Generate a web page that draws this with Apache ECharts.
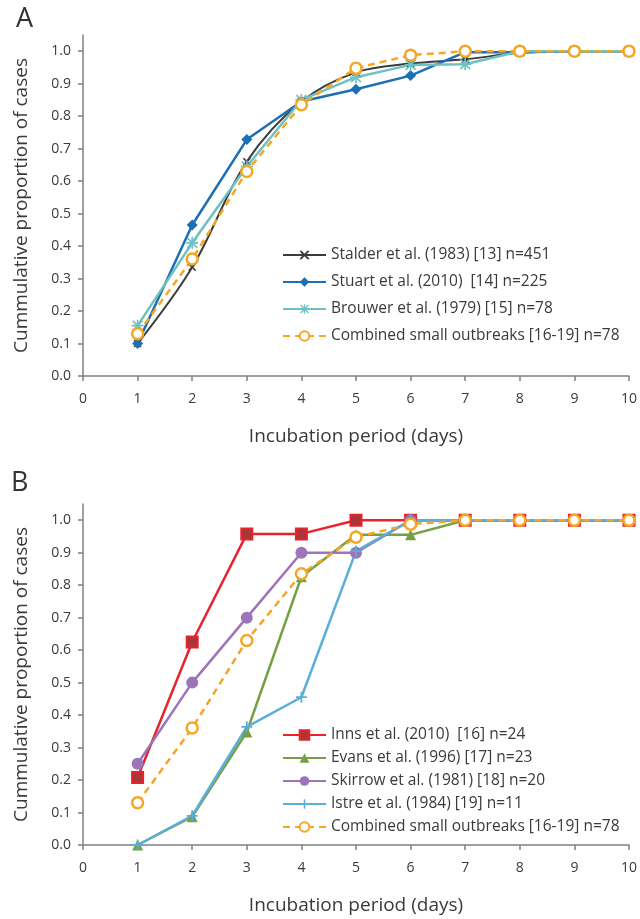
<!DOCTYPE html>
<html>
<head>
<meta charset="utf-8">
<script src="https://cdn.jsdelivr.net/npm/echarts@6/dist/echarts.min.js"></script>
<style>
  html, body { margin: 0; padding: 0; background: #fff; }
  #chart { width: 640px; height: 919px; }
</style>
</head>
<body>
<div id="chart"></div>
<script>
// incubation day
var days = [1, 2, 3, 4, 5, 6, 7, 8, 9, 10];
var yTicks = [0, 0.1, 0.2, 0.3, 0.4, 0.5, 0.6, 0.7, 0.8, 0.9, 1.0];

// panel A
var stalder  = [0.10, 0.335, 0.66, 0.845, 0.935, 0.962, 0.975, 0.995, 1.0, 1.0];
var stuart   = [0.10, 0.465, 0.728, 0.845, 0.883, 0.925, 0.997, 0.997, 1.0, 1.0];
var brouwer  = [0.155, 0.41, 0.645, 0.85, 0.92, 0.958, 0.96, 1.0, 1.0, 1.0];
var combined = [0.13, 0.36, 0.63, 0.835, 0.948, 0.988, 1.0, 1.0, 1.0, 1.0];

// panel B
var inns     = [0.208, 0.625, 0.958, 0.958, 1.0, 1.0, 1.0, 1.0, 1.0, 1.0];
var evans    = [0.0, 0.087, 0.348, 0.826, 0.955, 0.955, 1.0, 1.0, 1.0, 1.0];
var skirrow  = [0.25, 0.50, 0.70, 0.90, 0.90, 1.0, 1.0, 1.0, 1.0, 1.0];
var istre    = [0.0, 0.09, 0.364, 0.455, 0.905, 1.0, 1.0, 1.0, 1.0, 1.0];

var names = {
    stalder: 'Stalder et al. (1983) [13] n=451',
    stuart: 'Stuart et al. (2010)  [14] n=225',
    brouwer: 'Brouwer et al. (1979) [15] n=78',
    combined: 'Combined small outbreaks [16-19] n=78',
    inns: 'Inns et al. (2010)  [16] n=24',
    evans: 'Evans et al. (1996) [17] n=23',
    skirrow: 'Skirrow et al. (1981) [18] n=20',
    istre: 'Istre et al. (1984) [19] n=11'
};

function pairs(vals) {
    return days.map(function (d, i) { return [d, vals[i]]; });
}

var FONT = 'Open Sans';
var TXT = '#3a3a3a';
var AX = '#808080';
var xSym = 'path://M1.4,0 L5,3.6 L8.6,0 L10,1.4 L6.4,5 L10,8.6 L8.6,10 L5,6.4 L1.4,10 L0,8.6 L3.6,5 L0,1.4 Z';
var plusSym = 'path://M4.2,0 h1.6 v4.2 h4.2 v1.6 h-4.2 v4.2 h-1.6 v-4.2 h-4.2 v-1.6 h4.2 Z';
var starSym = 'path://M4.3,0 h1.4 v3.3 L8.6,0.4 L9.6,1.4 L6.7,4.3 H10 v1.4 H6.7 L9.6,8.6 L8.6,9.6 L5.7,6.7 V10 h-1.4 V6.7 L1.4,9.6 L0.4,8.6 L3.3,5.7 H0 v-1.4 H3.3 L0.4,1.4 L1.4,0.4 L4.3,3.3 Z';

var myChart = echarts.init(document.getElementById('chart'));

function xAx(idx) {
    return {
        type: 'value', gridIndex: idx, min: 0, max: 10, interval: 1,
        name: 'Incubation period (days)', nameLocation: 'middle', nameGap: 51,
        nameTextStyle: { fontFamily: FONT, fontSize: 19, color: TXT },
        axisLine: { lineStyle: { color: AX, width: 1.5 } },
        axisTick: { show: true, length: 5, lineStyle: { color: AX, width: 1.5 } },
        axisLabel: { fontFamily: FONT, fontSize: 14, color: TXT, margin: 16 },
        splitLine: { show: false }
    };
}
function yAx(idx) {
    return {
        type: 'value', gridIndex: idx, min: 0, max: 1.05,
        name: 'Cummulative proportion of cases', nameLocation: 'middle', nameGap: 52,
        nameTextStyle: { fontFamily: FONT, fontSize: 19, color: TXT },
        axisLine: { show: true, lineStyle: { color: AX, width: 1.5 } },
        axisTick: { show: true, length: 5, inside: false, customValues: yTicks, lineStyle: { color: AX, width: 1.5 } },
        axisLabel: { fontFamily: FONT, fontSize: 14, color: TXT, margin: 12, customValues: yTicks,
            formatter: function (v) { return v.toFixed(1); } },
        splitLine: { show: false }
    };
}

function line(name, vals, grid, color, symbol, size, extra) {
    var s = {
        name: name, type: 'line', xAxisIndex: grid, yAxisIndex: grid,
        data: pairs(vals), symbol: symbol, symbolSize: size,
        lineStyle: { color: color, width: 2.5 },
        itemStyle: { color: color },
        emphasis: { disabled: true }
    };
    if (extra) {
        for (var k in extra) s[k] = extra[k];
    }
    return s;
}

var orangeOpts = {
    lineStyle: { color: '#f5a623', width: 2.5, type: [7, 5] },
    itemStyle: { color: '#fff', borderColor: '#f5a623', borderWidth: 2.5 }
};

var option = {
    animation: false,
    title: [
        { text: 'A', left: 11, top: 1, textStyle: { fontFamily: FONT, fontSize: 27, fontWeight: 'normal', color: '#333' } },
        { text: 'B', left: 6, top: 465, textStyle: { fontFamily: FONT, fontSize: 27, fontWeight: 'normal', color: '#333' } }
    ],
    grid: [
        { left: 83, right: 11, top: 35, height: 341 },
        { left: 83, right: 11, top: 504, height: 341 }
    ],
    xAxis: [xAx(0), xAx(1)],
    yAxis: [yAx(0), yAx(1)],
    legend: [
        {
            orient: 'vertical', left: 277, top: 242, itemWidth: 43, itemHeight: 12, itemGap: 11,
            textStyle: { fontFamily: FONT, fontSize: 15.5, color: TXT },
            data: [names.stalder, names.stuart, names.brouwer, names.combined]
        },
        {
            orient: 'vertical', left: 277, top: 722, itemWidth: 43, itemHeight: 12, itemGap: 7,
            textStyle: { fontFamily: FONT, fontSize: 15.5, color: TXT },
            data: [names.inns, names.evans, names.skirrow, names.istre, names.combined]
        }
    ],
    series: [
        line(names.stalder, stalder, 0, '#3c3c3c', xSym, 8, { smooth: 0.35, lineStyle: { color: '#3c3c3c', width: 2 } }),
        line(names.stuart, stuart, 0, '#1c6fb4', 'diamond', 11),
        line(names.brouwer, brouwer, 0, '#6fc0c3', starSym, 12),
        line(names.combined, combined, 0, '#f5a623', 'circle', 11, orangeOpts),

        line(names.inns, inns, 1, '#e8232b', 'rect', 11, { itemStyle: { color: '#a8373a', borderColor: '#e8232b', borderWidth: 2 } }),
        line(names.evans, evans, 1, '#75a044', 'triangle', 11),
        line(names.skirrow, skirrow, 1, '#9d74b8', 'circle', 12),
        line(names.istre, istre, 1, '#5aaed9', plusSym, 11),
        line(names.combined, combined, 1, '#f5a623', 'circle', 11, orangeOpts)
    ]
};

myChart.setOption(option);
</script>
</body>
</html>
